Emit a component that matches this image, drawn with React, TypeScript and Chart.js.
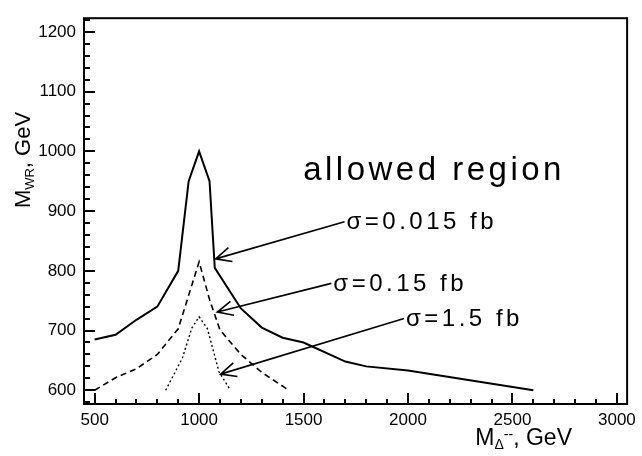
import { useEffect, useRef } from "react";
import { Chart, registerables } from "chart.js";

Chart.register(...registerables);

// sigma = 0.015 fb (solid)
const mDelta015 = [500, 600, 700, 800, 900, 950, 1000, 1050, 1075, 1200, 1300, 1400, 1500, 1700, 1800, 2000, 2600];
const mWR015 = [685, 693, 718, 740, 800, 950, 1000, 950, 805, 737, 705, 688, 680, 648, 640, 633, 600];
// sigma = 0.15 fb (dashed)
const mDelta15 = [500, 600, 700, 800, 900, 1000, 1050, 1100, 1200, 1300, 1430];
const mWR15 = [600, 621, 636, 660, 703, 815, 752, 701, 660, 630, 600];
// sigma = 1.5 fb (dotted)
const mDelta150 = [840, 920, 965, 1000, 1040, 1095, 1150];
const mWR150 = [600, 654, 704, 723, 703, 631, 600];

const xTicks = [500, 1000, 1500, 2000, 2500, 3000];
const yTicks = [600, 700, 800, 900, 1000, 1100, 1200];

// annotation labels, in data units
const arrowLabels = ["σ=0.015 fb", "σ=0.15 fb", "σ=1.5 fb"];
const arrowTail = [
  [1696, 882],
  [1633, 779],
  [1981, 720],
];
const arrowTip = [
  [1079, 820],
  [1087, 731],
  [1103, 627],
];
const regionLabel = "allowed region";

const FONT = "'Liberation Sans', Arial, Helvetica, sans-serif";

type Run = { t: string; size: number; dy: number };

function drawRuns(ctx: CanvasRenderingContext2D, runs: Run[], x: number, y: number, align: "left" | "right" | "center") {
  let total = 0;
  const widths = runs.map((r) => {
    ctx.font = `${r.size}px ${FONT}`;
    const w = ctx.measureText(r.t).width;
    total += w;
    return w;
  });
  let cx = align === "left" ? x : align === "right" ? x - total : x - total / 2;
  ctx.textAlign = "left";
  ctx.textBaseline = "alphabetic";
  runs.forEach((r, i) => {
    ctx.font = `${r.size}px ${FONT}`;
    ctx.fillText(r.t, cx, y + r.dy);
    cx += widths[i];
  });
}

const overlay = {
  id: "overlay",
  afterDraw(chart: any) {
    const { ctx, chartArea: a, scales } = chart;
    const x = scales.x;
    const y = scales.y;
    ctx.save();
    ctx.strokeStyle = "#000";
    ctx.fillStyle = "#000";
    ctx.lineWidth = 2;
    ctx.strokeRect(a.left, a.top, a.right - a.left, a.bottom - a.top);

    // inner ticks
    ctx.lineWidth = 2;
    ctx.beginPath();
    for (let v = 500; v <= 3000; v += 100) {
      const px = Math.round(x.getPixelForValue(v));
      const len = v % 500 === 0 ? 11 : 5;
      ctx.moveTo(px, a.bottom);
      ctx.lineTo(px, a.bottom - len);
    }
    for (let v = 580; v <= 1220; v += 20) {
      const py = Math.round(y.getPixelForValue(v));
      const len = v % 100 === 0 ? 11 : 6;
      ctx.moveTo(a.left, py);
      ctx.lineTo(a.left + len, py);
    }
    ctx.stroke();

    // arrows
    ctx.lineWidth = 1.6;
    arrowLabels.forEach((lab, i) => {
      const tx = x.getPixelForValue(arrowTail[i][0]);
      const ty = y.getPixelForValue(arrowTail[i][1]);
      const hx = x.getPixelForValue(arrowTip[i][0]);
      const hy = y.getPixelForValue(arrowTip[i][1]);
      ctx.beginPath();
      ctx.moveTo(tx, ty);
      ctx.lineTo(hx, hy);
      const ang = Math.atan2(ty - hy, tx - hx);
      const L = 17;
      const da = (25 * Math.PI) / 180;
      ctx.moveTo(hx + L * Math.cos(ang + da), hy + L * Math.sin(ang + da));
      ctx.lineTo(hx, hy);
      ctx.lineTo(hx + L * Math.cos(ang - da), hy + L * Math.sin(ang - da));
      ctx.stroke();
      (ctx as any).letterSpacing = "3.5px";
      ctx.font = `24px ${FONT}`;
      ctx.textAlign = "left";
      ctx.textBaseline = "middle";
      ctx.fillText(lab, tx + 2, ty + 1);
      (ctx as any).letterSpacing = "0px";
    });

    // allowed region
    (ctx as any).letterSpacing = "3.5px";
    ctx.font = `33px ${FONT}`;
    ctx.textAlign = "left";
    ctx.textBaseline = "alphabetic";
    ctx.fillText(regionLabel, x.getPixelForValue(1498), y.getPixelForValue(952));
    (ctx as any).letterSpacing = "0px";

    // x title
    drawRuns(
      ctx,
      [
        { t: "M", size: 23, dy: 0 },
        { t: "Δ", size: 14, dy: 4 },
        { t: "--", size: 14, dy: -6 },
        { t: ", GeV", size: 23, dy: 0 },
      ],
      572,
      445,
      "right"
    );

    // y title
    ctx.translate(30, 160);
    ctx.rotate(-Math.PI / 2);
    drawRuns(
      ctx,
      [
        { t: "M", size: 22, dy: 0 },
        { t: "WR", size: 13, dy: 4 },
        { t: ", GeV", size: 22, dy: 0 },
      ],
      0,
      0,
      "center"
    );
    ctx.restore();
  },
};

export default function App() {
  const ref = useRef<HTMLCanvasElement>(null);
  useEffect(() => {
    const mk = (xs: number[], ys: number[]) => xs.map((v, i) => ({ x: v, y: ys[i] }));
    const base = { showLine: true, borderColor: "#000", pointRadius: 0, fill: false, tension: 0 };
    const chart = new Chart(ref.current!, {
      type: "scatter",
      data: {
        datasets: [
          { ...base, label: "σ=0.015 fb", data: mk(mDelta015, mWR015), borderWidth: 2 },
          { ...base, label: "σ=0.15 fb", data: mk(mDelta15, mWR15), borderWidth: 1.6, borderDash: [6, 4] },
          { ...base, label: "σ=1.5 fb", data: mk(mDelta150, mWR150), borderWidth: 1.4, borderDash: [2, 2.5] },
        ],
      },
      options: {
        animation: false,
        responsive: false,
        maintainAspectRatio: false,
        layout: { padding: { top: 4, right: 11, left: 0, bottom: 0 } },
        plugins: { legend: { display: false }, tooltip: { enabled: false } },
        scales: {
          x: {
            type: "linear",
            min: 449,
            max: 3049,
            grid: { display: false, drawTicks: false },
            border: { display: false },
            afterBuildTicks: (s: any) => {
              s.ticks = xTicks.map((v) => ({ value: v }));
            },
            afterFit: (s: any) => {
              s.height = 52;
            },
            ticks: {
              color: "#000",
              font: { family: FONT, size: 17 },
              padding: 6,
              maxRotation: 0,
              autoSkip: false,
              callback: (v: any) => String(v),
            },
          },
          y: {
            type: "linear",
            min: 577,
            max: 1223,
            grid: { display: false, drawTicks: false },
            border: { display: false },
            afterBuildTicks: (s: any) => {
              s.ticks = yTicks.map((v) => ({ value: v }));
            },
            afterFit: (s: any) => {
              s.width = 84;
            },
            ticks: {
              color: "#000",
              font: { family: FONT, size: 17 },
              padding: 8,
              autoSkip: false,
              callback: (v: any) => String(v),
            },
          },
        },
      },
      plugins: [overlay],
    });
    return () => chart.destroy();
  }, []);
  return (
    <div style={{ position: "absolute", left: 0, top: 0, width: 642, height: 456, background: "#fff" }}>
      <canvas ref={ref} width={642} height={456} style={{ width: 642, height: 456, display: "block" }} />
    </div>
  );
}
